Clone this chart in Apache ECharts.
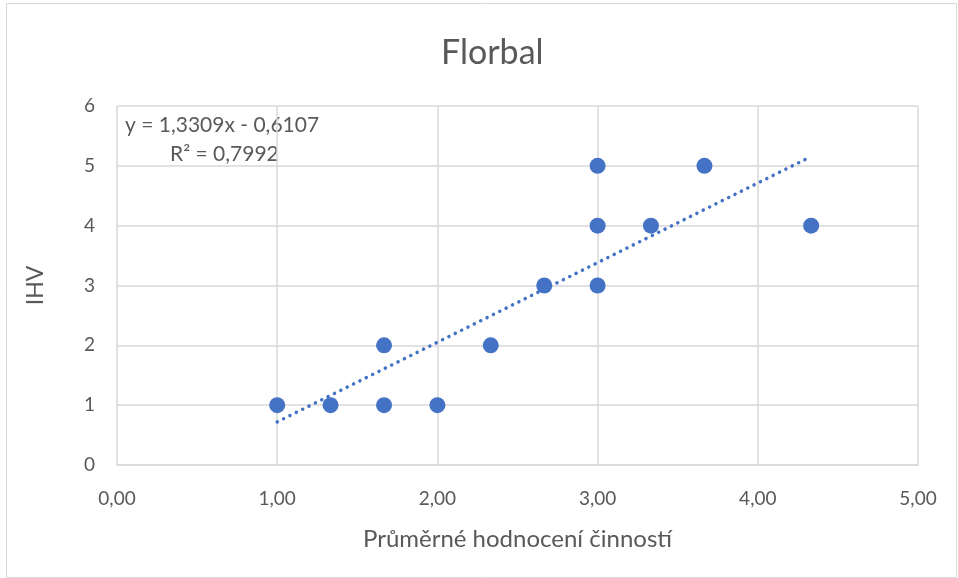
<!DOCTYPE html>
<html><head><meta charset="utf-8">
<script src="https://cdn.jsdelivr.net/npm/echarts@6/dist/echarts.min.js"></script>
<style>html,body{margin:0;padding:0;background:#fff}#c{width:958px;height:578px}</style>
</head><body><div id="c"></div>
<script>
const xValues = [1.0, 1.333, 1.667, 2.0, 1.667, 2.333, 2.667, 3.0, 3.0, 3.0, 3.333, 3.667, 4.333];
const yValues = [1, 1, 1, 1, 2, 2, 3, 3, 4, 5, 4, 5, 4];
const trendSlope = 1.3309;
const trendIntercept = -0.6107;
const trendRange = [1.0, 4.333];
const equationLines = ['y = 1,3309x - 0,6107', 'R² = 0,7992'];
const titleText = 'Florbal';
const xAxisTitle = 'Průměrné hodnocení činností';
const yAxisTitle = 'IHV';

const font = 'Lato, "Open Sans", sans-serif';
const chart = echarts.init(document.getElementById('c'));
const pts = xValues.map((x, i) => [x, yValues[i]]);
const trend = trendRange.map(x => [x, trendSlope * x + trendIntercept]);
chart.setOption({
  animation: false,
  title: { text: titleText, left: 436, top: 31, textStyle: { fontFamily: font, fontSize: 34, fontWeight: 'normal', color: '#595959' } },
  grid: { left: 117, right: 40, top: 106, bottom: 113 },
  xAxis: {
    type: 'value', min: 0, max: 5, interval: 1,
    name: xAxisTitle, nameLocation: 'middle', nameGap: 62,
    nameTextStyle: { fontFamily: font, fontSize: 24, color: '#595959' },
    axisLine: { show: true, lineStyle: { color: '#d9d9d9', width: 1.5 } },
    axisTick: { show: false },
    axisLabel: { fontFamily: font, fontSize: 19, color: '#595959', margin: 24, formatter: v => v.toFixed(2).replace('.', ',') },
    splitLine: { show: true, lineStyle: { color: '#d9d9d9', width: 1.5 } }
  },
  yAxis: {
    type: 'value', min: 0, max: 6, interval: 1,
    name: yAxisTitle, nameLocation: 'middle', nameGap: 70, nameRotate: 90,
    nameTextStyle: { fontFamily: font, fontSize: 23, color: '#595959' },
    axisLine: { show: false }, axisTick: { show: false },
    axisLabel: { fontFamily: font, fontSize: 19, color: '#595959', margin: 22 },
    splitLine: { show: true, lineStyle: { color: '#d9d9d9', width: 1.5 } }
  },
  series: [
    { type: 'line', data: trend, symbol: 'none', lineStyle: { color: '#4472C4', width: 3.5, type: [0.1, 7], cap: 'round' }, z: 2 },
    { type: 'scatter', data: pts, symbolSize: 16, itemStyle: { color: '#4472C4', opacity: 1 }, z: 3 }
  ],
  graphic: [
    { type: 'rect', left: 4, top: 1, shape: { width: 950, height: 574 }, style: { fill: 'none', stroke: '#d9d9d9', lineWidth: 1 }, silent: true },
    { type: 'text', left: 125, top: 115, style: { text: equationLines[0], fontFamily: font, fontSize: 21, fill: '#595959' } },
    { type: 'text', left: 170, top: 144, style: { text: equationLines[1], fontFamily: font, fontSize: 21, fill: '#595959' } }
  ]
});
</script></body></html>
